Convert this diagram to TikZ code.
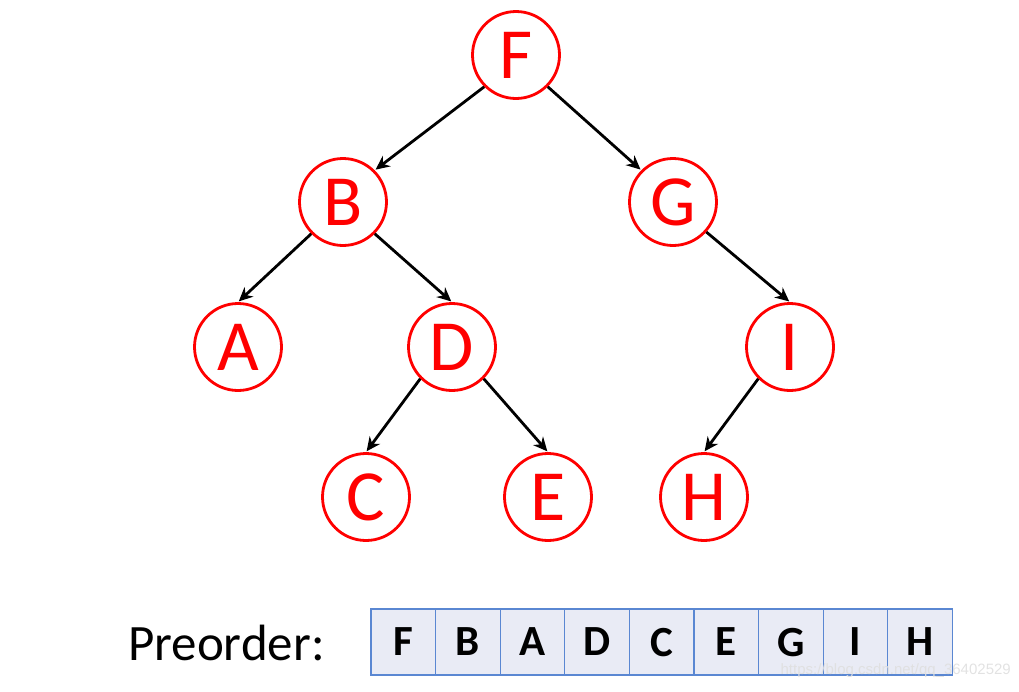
\documentclass[tikz,border=0pt]{standalone}
\usepackage{fontspec}
\setmainfont{Carlito}
\newfontfamily\wmfont{Liberation Sans}
\usetikzlibrary{arrows.meta}
\definecolor{nodered}{RGB}{255,0,0}
\definecolor{boxfill}{RGB}{233,235,245}
\definecolor{boxline}{RGB}{90,135,210}
\tikzset{
  treenode/.style={circle, draw=nodered, line width=2.8pt, fill=white, minimum size=87pt, inner sep=0pt, text=nodered, font=\fontsize{72}{76}\selectfont},
  edge/.style={line width=2.8pt, -{Stealth[length=14pt,width=13pt]}, shorten >=1pt},
  cell/.style={rectangle, draw=boxline, line width=1.3pt, fill=boxfill, minimum width=64.6pt, minimum height=66pt, inner sep=0pt, text depth=0pt, font=\bfseries\fontsize{43}{46}\selectfont},
}
\begin{document}
\begin{tikzpicture}[x=1pt,y=-1pt]
\useasboundingbox (0,0) rectangle (1019,691);
\node[treenode] (F) at (516,55) {F};
\node[treenode] (B) at (343,202) {B};
\node[treenode] (G) at (673,202) {G};
\node[treenode] (A) at (238,347) {A};
\node[treenode] (D) at (452,347) {D};
\node[treenode] (I) at (790,347) {I};
\node[treenode] (C) at (366,497) {C};
\node[treenode] (E) at (548,497) {E};
\node[treenode] (H) at (704,497) {H};
\draw[edge] (F.225) -- (B.45);
\draw[edge] (F.315) -- (G.135);
\draw[edge] (B.225) -- (A.north);
\draw[edge] (B.315) -- (D.north);
\draw[edge] (G.318) -- (I.north);
\draw[edge] (D.225) -- (C.north);
\draw[edge] (D.315) -- (E.north);
\draw[edge] (I.225) -- (H.north);
\node[anchor=base west, inner sep=0pt, font=\fontsize{51}{55}\selectfont] (lbl) at (128,660) {Preorder:};
\foreach \t [count=\i] in {F,B,A,D,C,E,G,I,H}{
  \node[cell] (p\i) at ({371+32.3+(\i-1)*64.6},642) {\t};
}
\node[anchor=east, inner sep=0pt, text=white!75!gray, opacity=0.9, font=\wmfont\fontsize{15}{17}\selectfont] (wm) at (1011,671) {https://blog.csdn.net/qq\_36402529};
\end{tikzpicture}
\end{document}
